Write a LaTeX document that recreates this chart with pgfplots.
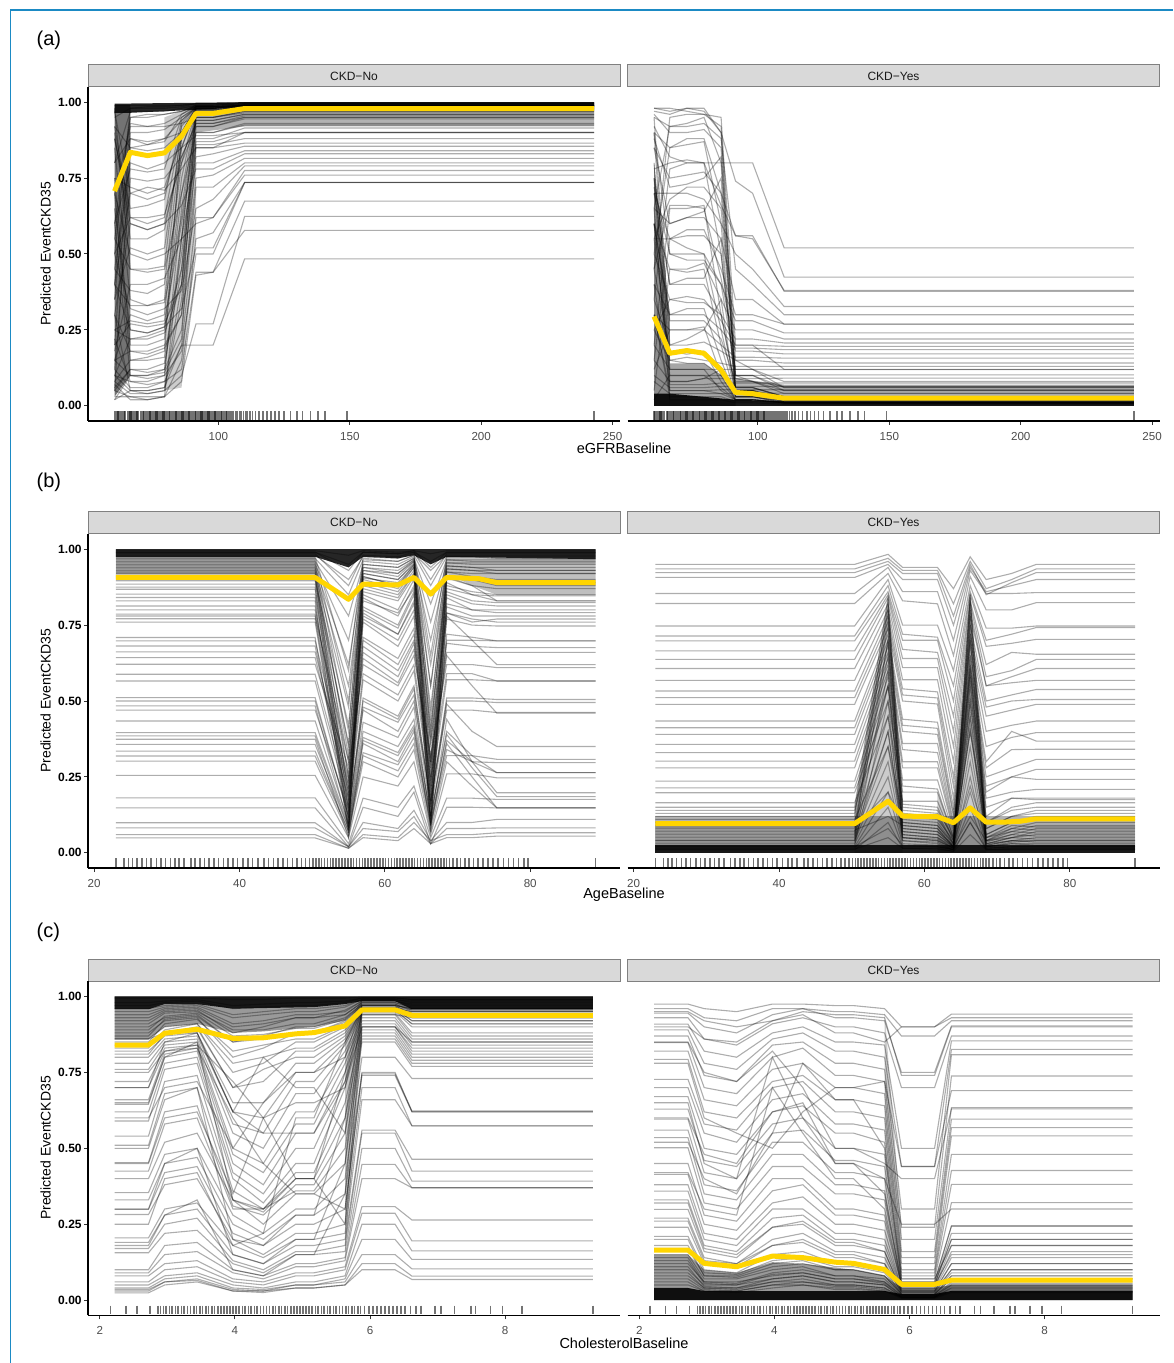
\documentclass[border=0pt]{standalone}
\usepackage{pgfplots}
\pgfplotsset{compat=1.18}
\usepackage{pgfplotstable}
\usepackage{fontspec}
\setmainfont{Liberation Sans}
\definecolor{frameblue}{RGB}{27,138,196}
\definecolor{stripgray}{RGB}{217,217,217}
\definecolor{stripedge}{RGB}{128,128,128}
\definecolor{avgyellow}{RGB}{255,213,0}

\pgfplotsset{
  ice/.style={draw=black, opacity=0.32, line width=0.55pt},
  dk/.style={fill=black, fill opacity=#1, draw=none},
  avg/.style={draw=avgyellow, line width=2.5pt, line join=round},
  rug/.style={only marks, mark=|, mark size=2.1pt, mark options={draw=black, draw opacity=0.55, line width=0.8pt}},
  panel/.style={scale only axis, width=266pt, height=167pt, ymin=-0.05, ymax=1.05,
    anchor=north west, axis x line*=bottom,
    axis line style={line width=0.6pt, black, -},
    tick align=outside, major tick length=2pt,
    tick style={line width=0.5pt, black!80},
    xticklabel style={font=\fontsize{5.8}{6.5}\selectfont, text=black!70}},
  lpanel/.style={panel, axis y line*=left, ytick={0,0.25,0.5,0.75,1},
    yticklabels={0.00,0.25,0.50,0.75,1.00},
    yticklabel style={font=\bfseries\fontsize{6}{7}\selectfont, inner xsep=1pt}},
  rpanel/.style={panel, axis y line=none, ytick=\empty},
  rowa/.style={xmin=50.4, xmax=252.8, xtick={100,150,200,250}, xticklabels={100,150,200,250}},
  rowb/.style={xmin=19.15, xmax=92.35, xtick={20,40,60,80}, xticklabels={20,40,60,80}},
  rowc/.style={xmin=1.825, xmax=9.70, xtick={2,4,6,8}, xticklabels={2,4,6,8}},
}

\newcommand{\LA}[9]{\addplot[ice] coordinates {(60.5,#1)(66.5,#2)(73,#3)(79.5,#4)(86,#5)(91.5,#6)(98,#7)(110,#8)(243,#9)};}
\newcommand{\LB}[9]{\addplot[ice] coordinates {(23,#1)(50.4,#1)(55,#2)(57,#3)(61.8,#4)(64,#5)(66.3,#6)(68.5,#7)(72,#8)(75.4,#9)(89,#9)};}
\newcommand{\LC}[9]{\addplot[ice] coordinates {(2.22,#1)(2.72,#1)(2.96,#2)(3.44,#3)(3.97,#4)(4.42,#5)(4.9,#6)(5.17,#6)(5.63,#7)(5.88,#8)(6.37,#8)(6.62,#9)(9.3,#9)};}

% rug tables: x value, rug position
\pgfplotstableread[row sep=\\]{x r\\
60.5 -.032\\ 60.9 -.032\\ 61.4 -.032\\ 61.8 -.032\\ 62.3 -.032\\ 62.7 -.032\\ 63.2 -.032\\ 63.6 -.032\\ 64.1 -.032\\ 64.5 -.032\\
65.4 -.032\\ 65.9 -.032\\ 66.3 -.032\\ 66.8 -.032\\ 67.2 -.032\\ 67.7 -.032\\ 68.1 -.032\\ 68.6 -.032\\ 69 -.032\\ 69.5 -.032\\
70.4 -.032\\ 70.8 -.032\\ 71.3 -.032\\ 71.7 -.032\\ 72.2 -.032\\ 72.6 -.032\\ 73.1 -.032\\ 73.5 -.032\\ 74 -.032\\ 74.4 -.032\\
74.9 -.032\\ 75.3 -.032\\ 75.8 -.032\\ 76.2 -.032\\ 76.7 -.032\\ 77.1 -.032\\ 77.6 -.032\\ 78 -.032\\ 78.5 -.032\\ 78.9 -.032\\
79.4 -.032\\ 79.8 -.032\\ 80.3 -.032\\ 80.7 -.032\\ 81.2 -.032\\ 81.6 -.032\\ 82.1 -.032\\ 82.5 -.032\\ 83 -.032\\ 83.4 -.032\\
83.9 -.032\\ 84.3 -.032\\ 84.8 -.032\\ 85.2 -.032\\ 85.7 -.032\\ 86.1 -.032\\ 86.6 -.032\\ 87 -.032\\ 87.5 -.032\\ 87.9 -.032\\
88.4 -.032\\ 88.8 -.032\\ 89.3 -.032\\ 89.7 -.032\\ 90.2 -.032\\ 90.6 -.032\\ 91.1 -.032\\ 91.5 -.032\\ 92 -.032\\ 92.4 -.032\\
92.9 -.032\\ 93.3 -.032\\ 93.8 -.032\\ 94.2 -.032\\ 94.7 -.032\\ 95.1 -.032\\ 95.6 -.032\\ 96 -.032\\ 96.5 -.032\\ 96.9 -.032\\
97.4 -.032\\ 97.8 -.032\\ 98.3 -.032\\ 98.7 -.032\\ 99.2 -.032\\ 99.6 -.032\\ 100.1 -.032\\ 100.5 -.032\\ 101 -.032\\ 101.4 -.032\\
101.9 -.032\\ 102.3 -.032\\ 102.8 -.032\\ 103.3 -.032\\ 103.9 -.032\\ 104.5 -.032\\ 105.2 -.032\\ 105.8 -.032\\ 106.5 -.032\\ 107.2 -.032\\
108 -.032\\ 108.7 -.032\\ 109.5 -.032\\ 110.3 -.032\\ 111 -.032\\ 112 -.032\\ 113 -.032\\ 114.2 -.032\\ 115.5 -.032\\ 117 -.032\\
118.6 -.032\\ 120 -.032\\ 121.5 -.032\\ 123 -.032\\ 125 -.032\\ 127.5 -.032\\ 130 -.032\\ 132 -.032\\ 135 -.032\\ 138 -.032\\
140.5 -.032\\ 149 -.032\\ 243 -.032\\
}\rugA
\pgfplotstableread[row sep=\\]{x r\\
23 -.032\\ 24.1 -.032\\ 24.7 -.032\\ 25.3 -.032\\ 25.9 -.032\\ 26.6 -.032\\ 27.2 -.032\\ 27.8 -.032\\ 28.6 -.032\\ 29.2 -.032\\
29.8 -.032\\ 30.5 -.032\\ 31.1 -.032\\ 31.7 -.032\\ 32.4 -.032\\ 33.3 -.032\\ 33.9 -.032\\ 34.6 -.032\\ 35.2 -.032\\ 35.8 -.032\\
36.5 -.032\\ 37.1 -.032\\ 37.8 -.032\\ 38.4 -.032\\ 39.1 -.032\\ 39.7 -.032\\ 40.5 -.032\\ 41.2 -.032\\ 41.8 -.032\\ 42.5 -.032\\
43.4 -.032\\ 44 -.032\\ 44.7 -.032\\ 45.3 -.032\\ 46 -.032\\ 46.6 -.032\\ 47.3 -.032\\ 47.9 -.032\\ 48.5 -.032\\ 49.1 -.032\\
49.6 -.032\\ 50.1 -.032\\ 50.5 -.032\\ 50.9 -.032\\ 51.3 -.032\\ 51.7 -.032\\ 52.1 -.032\\ 52.5 -.032\\ 52.9 -.032\\ 53.3 -.032\\
53.7 -.032\\ 54.1 -.032\\ 54.5 -.032\\ 54.9 -.032\\ 55.3 -.032\\ 55.7 -.032\\ 56.1 -.032\\ 56.5 -.032\\ 56.9 -.032\\ 57.3 -.032\\
57.7 -.032\\ 58.1 -.032\\ 58.5 -.032\\ 58.9 -.032\\ 59.3 -.032\\ 59.7 -.032\\ 60.1 -.032\\ 60.5 -.032\\ 60.9 -.032\\ 61.3 -.032\\
61.7 -.032\\ 62.1 -.032\\ 62.5 -.032\\ 62.9 -.032\\ 63.3 -.032\\ 63.7 -.032\\ 64.1 -.032\\ 64.5 -.032\\ 64.9 -.032\\ 65.3 -.032\\
65.7 -.032\\ 66.1 -.032\\ 66.5 -.032\\ 66.9 -.032\\ 67.3 -.032\\ 67.7 -.032\\ 68.1 -.032\\ 68.5 -.032\\ 68.9 -.032\\ 69.4 -.032\\
69.9 -.032\\ 70.4 -.032\\ 71 -.032\\ 71.6 -.032\\ 72.2 -.032\\ 72.8 -.032\\ 73.5 -.032\\ 74.2 -.032\\ 74.9 -.032\\ 75.6 -.032\\
76.3 -.032\\ 77 -.032\\ 77.7 -.032\\ 78.4 -.032\\ 79.1 -.032\\ 79.7 -.032\\ 89 -.032\\
}\rugB
\pgfplotstableread[row sep=\\]{x r\\
2.16 -.032\\ 2.39 -.032\\ 2.55 -.032\\ 2.74 -.032\\ 2.86 -.032\\ 2.9 -.032\\ 2.94 -.032\\ 2.98 -.032\\ 3.03 -.032\\ 3.07 -.032\\
3.12 -.032\\ 3.16 -.032\\ 3.21 -.032\\ 3.25 -.032\\ 3.3 -.032\\ 3.34 -.032\\ 3.39 -.032\\ 3.43 -.032\\ 3.48 -.032\\ 3.52 -.032\\
3.57 -.032\\ 3.61 -.032\\ 3.66 -.032\\ 3.7 -.032\\ 3.75 -.032\\ 3.79 -.032\\ 3.84 -.032\\ 3.88 -.032\\ 3.93 -.032\\ 3.97 -.032\\
4.02 -.032\\ 4.06 -.032\\ 4.11 -.032\\ 4.15 -.032\\ 4.2 -.032\\ 4.24 -.032\\ 4.29 -.032\\ 4.33 -.032\\ 4.38 -.032\\ 4.42 -.032\\
4.47 -.032\\ 4.51 -.032\\ 4.56 -.032\\ 4.6 -.032\\ 4.65 -.032\\ 4.69 -.032\\ 4.74 -.032\\ 4.78 -.032\\ 4.83 -.032\\ 4.87 -.032\\
4.92 -.032\\ 4.96 -.032\\ 5.01 -.032\\ 5.05 -.032\\ 5.1 -.032\\ 5.14 -.032\\ 5.19 -.032\\ 5.23 -.032\\ 5.28 -.032\\ 5.32 -.032\\
5.37 -.032\\ 5.41 -.032\\ 5.46 -.032\\ 5.5 -.032\\ 5.55 -.032\\ 5.59 -.032\\ 5.64 -.032\\ 5.68 -.032\\ 5.73 -.032\\ 5.77 -.032\\
5.82 -.032\\ 5.86 -.032\\ 5.92 -.032\\ 5.98 -.032\\ 6.04 -.032\\ 6.1 -.032\\ 6.16 -.032\\ 6.22 -.032\\ 6.28 -.032\\ 6.34 -.032\\
6.4 -.032\\ 6.46 -.032\\ 6.52 -.032\\ 6.6 -.032\\ 6.68 -.032\\ 6.75 -.032\\ 6.96 -.032\\ 7.05 -.032\\ 7.25 -.032\\ 7.49 -.032\\
7.56 -.032\\ 7.78 -.032\\ 7.96 -.032\\ 8.25 -.032\\ 9.3 -.032\\
}\rugC

\begin{document}
\begin{tikzpicture}
% frame
\draw[frameblue, line width=0.8pt] (5.15pt,-681.5pt) -- (5.15pt,-5pt) -- (586.5pt,-5pt);
% panel labels
\node[anchor=west, font=\fontsize{10}{12}\selectfont] at (14.8pt,-20.2pt) {(a)};
\node[anchor=west, font=\fontsize{10}{12}\selectfont] at (14.8pt,-241.25pt) {(b)};
\node[anchor=west, font=\fontsize{10}{12}\selectfont] at (14.8pt,-466.25pt) {(c)};
% strips
\foreach \yt in {-32.5,-255.85,-479.65} {
  \filldraw[fill=stripgray, draw=stripedge, line width=0.5pt] (44pt,\yt pt) rectangle (310pt,\yt pt-11pt);
  \filldraw[fill=stripgray, draw=stripedge, line width=0.5pt] (313.75pt,\yt pt) rectangle (579.75pt,\yt pt-11pt);
  \node[font=\fontsize{6}{7}\selectfont, text=black!90] at (177pt,\yt pt-5.5pt) {CKD−No};
  \node[font=\fontsize{6}{7}\selectfont, text=black!90] at (446.75pt,\yt pt-5.5pt) {CKD−Yes};
}
% axis titles
\foreach \yc in {-127,-350.3,-574} {
  \node[rotate=90, font=\fontsize{7}{8}\selectfont] at (22.75pt,\yc pt) {Predicted EventCKD35};
}
\node[font=\fontsize{7.25}{8}\selectfont] at (312pt,-224pt) {eGFRBaseline};
\node[font=\fontsize{7.25}{8}\selectfont] at (312pt,-447.5pt) {AgeBaseline};
\node[font=\fontsize{7.25}{8}\selectfont] at (312pt,-671.5pt) {CholesterolBaseline};

%================ (a) left
\begin{axis}[lpanel, rowa, at={(44pt,-43.5pt)}]
\addplot[dk=0.55] coordinates {(60.5,0.03)(60.5,0.99)(66.5,0.99)(66.5,0.1)} -- cycle;
\addplot[dk=0.2] coordinates {(79.5,0.05)(86,0.06)(91.5,0.55)(91.5,0.99)(79.5,0.95)} -- cycle;
\addplot[dk=0.3] coordinates {(91.5,0.9)(110,0.92)(243,0.92)(243,0.983)(110,0.983)(91.5,0.975)} -- cycle;
\addplot[dk=0.85] coordinates {(60.5,0.965)(66.5,0.965)(91.5,0.975)(110,0.983)(243,0.983)(243,1.0)(110,1.0)(60.5,0.995)} -- cycle;
\LA{0.99}{0.99}{0.99}{0.99}{0.99}{0.995}{0.995}{0.998}{0.998}
\LA{0.95}{0.98}{0.985}{0.985}{0.99}{0.995}{0.995}{0.997}{0.997}
\LA{0.80}{0.97}{0.97}{0.97}{0.98}{0.99}{0.99}{0.995}{0.995}
\LA{0.60}{0.95}{0.95}{0.96}{0.97}{0.985}{0.985}{0.993}{0.993}
\LA{0.40}{0.93}{0.92}{0.93}{0.96}{0.985}{0.985}{0.99}{0.99}
\LA{0.20}{0.90}{0.90}{0.91}{0.95}{0.98}{0.98}{0.99}{0.99}
\LA{0.05}{0.85}{0.86}{0.88}{0.94}{0.98}{0.98}{0.988}{0.988}
\LA{0.97}{0.70}{0.68}{0.70}{0.90}{0.985}{0.985}{0.99}{0.99}
\LA{0.90}{0.55}{0.55}{0.58}{0.85}{0.98}{0.98}{0.99}{0.99}
\LA{0.85}{0.35}{0.33}{0.35}{0.80}{0.975}{0.975}{0.985}{0.985}
\LA{0.75}{0.20}{0.20}{0.22}{0.70}{0.97}{0.97}{0.985}{0.985}
\LA{0.60}{0.10}{0.10}{0.12}{0.55}{0.97}{0.97}{0.98}{0.98}
\LA{0.30}{0.05}{0.05}{0.06}{0.40}{0.96}{0.965}{0.98}{0.98}
\LA{0.15}{0.30}{0.28}{0.30}{0.85}{0.975}{0.975}{0.985}{0.985}
\LA{0.50}{0.62}{0.60}{0.62}{0.92}{0.98}{0.98}{0.99}{0.99}
\LA{0.70}{0.92}{0.92}{0.92}{0.93}{0.95}{0.95}{0.965}{0.965}
\LA{0.35}{0.88}{0.87}{0.88}{0.90}{0.94}{0.94}{0.96}{0.96}
\LA{0.12}{0.75}{0.74}{0.75}{0.82}{0.93}{0.93}{0.955}{0.955}
\LA{0.92}{0.62}{0.62}{0.63}{0.80}{0.92}{0.92}{0.945}{0.945}
\LA{0.55}{0.45}{0.44}{0.45}{0.70}{0.90}{0.90}{0.93}{0.93}
\LA{0.25}{0.28}{0.27}{0.28}{0.60}{0.90}{0.90}{0.925}{0.925}
\LA{0.08}{0.15}{0.15}{0.16}{0.50}{0.88}{0.88}{0.915}{0.915}
\LA{0.45}{0.80}{0.78}{0.80}{0.85}{0.89}{0.89}{0.90}{0.90}
\LA{0.02}{0.05}{0.04}{0.05}{0.35}{0.87}{0.87}{0.90}{0.90}
\LA{0.65}{0.25}{0.24}{0.26}{0.45}{0.86}{0.86}{0.88}{0.88}
\LA{0.40}{0.70}{0.72}{0.71}{0.78}{0.85}{0.85}{0.865}{0.865}
\LA{0.18}{0.40}{0.40}{0.42}{0.55}{0.82}{0.83}{0.855}{0.855}
\LA{0.10}{0.22}{0.22}{0.24}{0.40}{0.80}{0.80}{0.84}{0.84}
\LA{0.88}{0.60}{0.58}{0.60}{0.66}{0.78}{0.78}{0.83}{0.83}
\LA{0.30}{0.18}{0.18}{0.20}{0.30}{0.75}{0.76}{0.815}{0.815}
\LA{0.06}{0.12}{0.11}{0.12}{0.25}{0.72}{0.72}{0.80}{0.80}
\LA{0.50}{0.32}{0.30}{0.32}{0.38}{0.65}{0.68}{0.79}{0.79}
\LA{0.22}{0.08}{0.07}{0.08}{0.20}{0.62}{0.62}{0.775}{0.775}
\LA{0.70}{0.50}{0.48}{0.50}{0.55}{0.60}{0.62}{0.76}{0.76}
\LA{0.03}{0.03}{0.03}{0.03}{0.15}{0.55}{0.57}{0.736}{0.736}
\LA{0.40}{0.25}{0.24}{0.26}{0.32}{0.52}{0.52}{0.736}{0.736}
\LA{0.15}{0.10}{0.09}{0.10}{0.18}{0.50}{0.50}{0.735}{0.735}
\LA{0.12}{0.06}{0.06}{0.08}{0.12}{0.44}{0.44}{0.674}{0.674}
\LA{0.08}{0.04}{0.04}{0.05}{0.10}{0.27}{0.27}{0.624}{0.624}
\LA{0.05}{0.03}{0.02}{0.03}{0.08}{0.43}{0.44}{0.578}{0.578}
\LA{0.10}{0.05}{0.05}{0.06}{0.20}{0.20}{0.20}{0.484}{0.484}
\LA{0.98}{0.45}{0.45}{0.46}{0.93}{0.985}{0.985}{0.99}{0.99}
\LA{0.70}{0.15}{0.16}{0.18}{0.90}{0.98}{0.98}{0.99}{0.99}
\LA{0.45}{0.38}{0.37}{0.40}{0.88}{0.975}{0.975}{0.985}{0.985}
\LA{0.25}{0.22}{0.23}{0.25}{0.75}{0.97}{0.97}{0.98}{0.98}
\LA{0.10}{0.08}{0.08}{0.10}{0.65}{0.965}{0.965}{0.975}{0.975}
\LA{0.88}{0.65}{0.66}{0.68}{0.94}{0.985}{0.985}{0.99}{0.99}
\LA{0.60}{0.78}{0.77}{0.78}{0.95}{0.985}{0.985}{0.99}{0.99}
\LA{0.35}{0.52}{0.50}{0.52}{0.90}{0.98}{0.98}{0.99}{0.99}
\LA{0.15}{0.18}{0.17}{0.19}{0.30}{0.95}{0.95}{0.97}{0.97}
\LA{0.05}{0.12}{0.12}{0.14}{0.45}{0.96}{0.96}{0.975}{0.975}
\LA{0.80}{0.88}{0.86}{0.87}{0.96}{0.99}{0.99}{0.995}{0.995}
\LA{0.55}{0.95}{0.96}{0.96}{0.97}{0.99}{0.99}{0.995}{0.995}
\LA{0.20}{0.27}{0.26}{0.27}{0.40}{0.92}{0.92}{0.95}{0.95}
\LA{0.40}{0.33}{0.33}{0.34}{0.62}{0.94}{0.94}{0.96}{0.96}
\LA{0.07}{0.02}{0.02}{0.03}{0.55}{0.97}{0.97}{0.98}{0.98}
\LA{0.92}{0.85}{0.84}{0.85}{0.90}{0.96}{0.96}{0.975}{0.975}
\LA{0.75}{0.72}{0.70}{0.72}{0.88}{0.95}{0.95}{0.97}{0.97}
\LA{0.30}{0.60}{0.58}{0.60}{0.82}{0.93}{0.93}{0.95}{0.95}
\LA{0.02}{0.10}{0.10}{0.11}{0.22}{0.85}{0.85}{0.90}{0.90}
\LA{0.50}{0.98}{0.98}{0.98}{0.985}{0.995}{0.995}{0.998}{0.998}
\addplot[avg] coordinates {(60.5,0.707)(66.5,0.835)(73,0.824)(79.5,0.833)(86,0.888)(91.5,0.963)(98,0.963)(110,0.979)(243,0.979)};
\addplot[rug] table[x=x, y=r] {\rugA};
\end{axis}

%================ (a) right
\begin{axis}[rpanel, rowa, at={(313.75pt,-43.5pt)}]
\addplot[dk=0.45] coordinates {(60.5,0.0)(60.5,0.8)(66.5,0.3)(66.5,0.0)} -- cycle;
\addplot[dk=0.35] coordinates {(66.5,0)(66.5,0.14)(79.5,0.14)(86,0.1)(91.5,0.03)(91.5,0)} -- cycle;
\addplot[dk=0.3] coordinates {(91.5,0.02)(110,0.015)(243,0.015)(243,0.07)(110,0.07)(91.5,0.09)} -- cycle;
\addplot[dk=0.9] coordinates {(60.5,0)(243,0)(243,0.015)(110,0.015)(91.5,0.02)(66.5,0.04)(60.5,0.04)} -- cycle;
\LA{0.98}{0.97}{0.98}{0.97}{0.90}{0.05}{0.05}{0.02}{0.02}
\LA{0.95}{0.92}{0.93}{0.95}{0.80}{0.04}{0.04}{0.015}{0.015}
\LA{0.90}{0.85}{0.86}{0.87}{0.60}{0.03}{0.03}{0.01}{0.01}
\LA{0.78}{0.80}{0.81}{0.80}{0.80}{0.80}{0.80}{0.52}{0.52}
\LA{0.97}{0.96}{0.98}{0.98}{0.90}{0.74}{0.70}{0.424}{0.424}
\LA{0.85}{0.75}{0.76}{0.77}{0.70}{0.56}{0.56}{0.377}{0.377}
\LA{0.70}{0.70}{0.70}{0.68}{0.60}{0.50}{0.45}{0.327}{0.327}
\LA{0.65}{0.60}{0.62}{0.62}{0.55}{0.35}{0.35}{0.269}{0.269}
\LA{0.55}{0.55}{0.58}{0.58}{0.45}{0.30}{0.30}{0.269}{0.269}
\LA{0.90}{0.50}{0.50}{0.50}{0.40}{0.28}{0.28}{0.24}{0.24}
\LA{0.60}{0.45}{0.45}{0.47}{0.35}{0.25}{0.25}{0.22}{0.22}
\LA{0.75}{0.40}{0.40}{0.40}{0.30}{0.22}{0.22}{0.207}{0.207}
\LA{0.50}{0.35}{0.36}{0.35}{0.28}{0.20}{0.20}{0.196}{0.196}
\LA{0.40}{0.30}{0.30}{0.30}{0.25}{0.19}{0.19}{0.185}{0.185}
\LA{0.45}{0.66}{0.66}{0.65}{0.42}{0.18}{0.18}{0.171}{0.171}
\LA{0.30}{0.25}{0.25}{0.25}{0.20}{0.16}{0.16}{0.157}{0.157}
\LA{0.35}{0.20}{0.20}{0.21}{0.18}{0.15}{0.15}{0.141}{0.141}
\LA{0.25}{0.15}{0.16}{0.15}{0.14}{0.13}{0.13}{0.13}{0.13}
\LA{0.20}{0.12}{0.12}{0.12}{0.12}{0.12}{0.12}{0.119}{0.119}
\LA{0.60}{0.10}{0.10}{0.10}{0.10}{0.10}{0.10}{0.102}{0.102}
\LA{0.15}{0.08}{0.08}{0.09}{0.09}{0.09}{0.09}{0.091}{0.091}
\LA{0.40}{0.07}{0.07}{0.07}{0.075}{0.075}{0.075}{0.075}{0.075}
\LA{0.10}{0.06}{0.06}{0.06}{0.064}{0.064}{0.064}{0.064}{0.064}
\LA{0.30}{0.05}{0.05}{0.05}{0.053}{0.053}{0.053}{0.053}{0.053}
\LA{0.08}{0.04}{0.04}{0.04}{0.04}{0.042}{0.042}{0.042}{0.042}
\LA{0.50}{0.85}{0.88}{0.88}{0.70}{0.10}{0.08}{0.04}{0.04}
\LA{0.35}{0.78}{0.80}{0.80}{0.50}{0.06}{0.06}{0.03}{0.03}
\LA{0.20}{0.65}{0.65}{0.66}{0.30}{0.05}{0.05}{0.02}{0.02}
\LA{0.70}{0.55}{0.52}{0.50}{0.25}{0.04}{0.04}{0.02}{0.02}
\LA{0.05}{0.45}{0.44}{0.45}{0.20}{0.03}{0.03}{0.015}{0.015}
\LA{0.60}{0.30}{0.32}{0.32}{0.15}{0.03}{0.03}{0.01}{0.01}
\LA{0.12}{0.25}{0.25}{0.26}{0.10}{0.02}{0.02}{0.01}{0.01}
\LA{0.45}{0.18}{0.17}{0.18}{0.08}{0.02}{0.02}{0.01}{0.01}
\LA{0.90}{0.12}{0.12}{0.12}{0.05}{0.02}{0.02}{0.01}{0.01}
\LA{0.02}{0.10}{0.10}{0.10}{0.06}{0.02}{0.02}{0.01}{0.01}
\LA{0.75}{0.05}{0.05}{0.05}{0.04}{0.02}{0.02}{0.01}{0.01}
\LA{0.30}{0.03}{0.03}{0.03}{0.03}{0.015}{0.015}{0.008}{0.008}
\LA{0.65}{0.92}{0.92}{0.93}{0.88}{0.45}{0.40}{0.30}{0.30}
\LA{0.55}{0.68}{0.72}{0.72}{0.65}{0.10}{0.10}{0.05}{0.05}
\LA{0.96}{0.90}{0.90}{0.91}{0.85}{0.06}{0.06}{0.03}{0.03}
\LA{0.85}{0.60}{0.62}{0.64}{0.75}{0.05}{0.05}{0.02}{0.02}
\LA{0.70}{0.40}{0.42}{0.42}{0.55}{0.04}{0.04}{0.02}{0.02}
\LA{0.95}{0.20}{0.22}{0.25}{0.35}{0.03}{0.03}{0.015}{0.015}
\LA{0.80}{0.08}{0.08}{0.09}{0.12}{0.02}{0.02}{0.01}{0.01}
\LA{0.65}{0.02}{0.02}{0.02}{0.02}{0.01}{0.01}{0.005}{0.005}
\LA{0.55}{0.15}{0.14}{0.14}{0.10}{0.05}{0.05}{0.03}{0.03}
\LA{0.25}{0.35}{0.34}{0.34}{0.30}{0.06}{0.06}{0.03}{0.03}
\LA{0.15}{0.55}{0.56}{0.56}{0.50}{0.09}{0.08}{0.05}{0.05}
\LA{0.88}{0.72}{0.73}{0.75}{0.82}{0.15}{0.12}{0.06}{0.06}
\LA{0.45}{0.95}{0.96}{0.96}{0.95}{0.20}{0.20}{0.12}{0.12}
\LA{0.92}{0.82}{0.80}{0.80}{0.66}{0.56}{0.55}{0.38}{0.38}
\LA{0.72}{0.50}{0.48}{0.48}{0.40}{0.12}{0.12}{0.08}{0.08}
\LA{0.60}{0.28}{0.28}{0.28}{0.22}{0.08}{0.08}{0.064}{0.064}
\LA{0.98}{0.98}{0.97}{0.96}{0.92}{0.10}{0.10}{0.06}{0.06}
\addplot[avg] coordinates {(60.5,0.294)(66.5,0.173)(73,0.182)(79.5,0.173)(86,0.118)(91.5,0.044)(98,0.04)(110,0.025)(243,0.025)};
\addplot[rug] table[x=x, y=r] {\rugA};
\end{axis}

%================ (b) left
\begin{axis}[lpanel, rowb, at={(44pt,-267pt)}]
\addplot[dk=0.3] coordinates {(23,0.918)(50.4,0.918)(50.4,0.975)(23,0.975)} -- cycle;
\addplot[dk=0.25] coordinates {(72,0.88)(75.4,0.85)(89,0.85)(89,0.967)(68.5,0.975)(68.5,0.92)} -- cycle;
\addplot[dk=0.85] coordinates {(23,0.975)(50.4,0.975)(55,0.94)(57,0.975)(61.8,0.97)(64,0.98)(66.3,0.95)(68.5,0.975)(89,0.967)(89,1)(23,1)} -- cycle;
\LB{0.995}{0.98}{0.995}{0.99}{0.995}{0.985}{0.995}{0.995}{0.995}
\LB{0.99}{0.95}{0.99}{0.985}{0.99}{0.96}{0.99}{0.99}{0.99}
\LB{0.98}{0.90}{0.975}{0.97}{0.985}{0.93}{0.98}{0.98}{0.98}
\LB{0.97}{0.85}{0.965}{0.96}{0.98}{0.88}{0.975}{0.975}{0.975}
\LB{0.96}{0.78}{0.95}{0.94}{0.97}{0.82}{0.965}{0.965}{0.965}
\LB{0.95}{0.70}{0.94}{0.93}{0.965}{0.76}{0.955}{0.955}{0.955}
\LB{0.94}{0.62}{0.93}{0.92}{0.96}{0.70}{0.945}{0.94}{0.94}
\LB{0.93}{0.55}{0.92}{0.90}{0.95}{0.62}{0.935}{0.93}{0.93}
\LB{0.92}{0.48}{0.91}{0.88}{0.94}{0.55}{0.925}{0.92}{0.92}
\LB{0.896}{0.42}{0.89}{0.86}{0.93}{0.48}{0.90}{0.90}{0.88}
\LB{0.885}{0.36}{0.88}{0.85}{0.92}{0.42}{0.89}{0.85}{0.846}
\LB{0.868}{0.30}{0.86}{0.83}{0.91}{0.36}{0.87}{0.85}{0.83}
\LB{0.852}{0.25}{0.85}{0.80}{0.90}{0.30}{0.86}{0.83}{0.824}
\LB{0.841}{0.20}{0.84}{0.78}{0.88}{0.25}{0.85}{0.82}{0.813}
\LB{0.813}{0.17}{0.81}{0.75}{0.86}{0.20}{0.82}{0.80}{0.791}
\LB{0.786}{0.14}{0.79}{0.72}{0.83}{0.17}{0.79}{0.76}{0.77}
\LB{0.771}{0.12}{0.77}{0.70}{0.80}{0.15}{0.78}{0.70}{0.62}
\LB{0.76}{0.10}{0.76}{0.68}{0.78}{0.12}{0.77}{0.75}{0.747}
\LB{0.709}{0.08}{0.71}{0.64}{0.74}{0.10}{0.72}{0.71}{0.698}
\LB{0.698}{0.24}{0.70}{0.62}{0.72}{0.30}{0.70}{0.70}{0.698}
\LB{0.681}{0.16}{0.68}{0.60}{0.70}{0.22}{0.69}{0.68}{0.676}
\LB{0.662}{0.22}{0.66}{0.58}{0.69}{0.28}{0.66}{0.66}{0.66}
\LB{0.643}{0.20}{0.64}{0.56}{0.67}{0.25}{0.65}{0.55}{0.46}
\LB{0.621}{0.28}{0.62}{0.55}{0.65}{0.32}{0.62}{0.62}{0.61}
\LB{0.588}{0.18}{0.59}{0.52}{0.62}{0.24}{0.59}{0.59}{0.566}
\LB{0.566}{0.15}{0.57}{0.50}{0.60}{0.20}{0.57}{0.57}{0.566}
\LB{0.511}{0.12}{0.51}{0.45}{0.55}{0.16}{0.51}{0.51}{0.505}
\LB{0.50}{0.12}{0.50}{0.44}{0.54}{0.16}{0.50}{0.50}{0.495}
\LB{0.484}{0.09}{0.48}{0.43}{0.52}{0.13}{0.49}{0.40}{0.35}
\LB{0.47}{0.14}{0.47}{0.40}{0.50}{0.18}{0.47}{0.47}{0.462}
\LB{0.434}{0.10}{0.43}{0.38}{0.48}{0.10}{0.44}{0.30}{0.198}
\LB{0.396}{0.09}{0.40}{0.35}{0.44}{0.12}{0.40}{0.32}{0.264}
\LB{0.385}{0.08}{0.38}{0.33}{0.42}{0.12}{0.39}{0.28}{0.185}
\LB{0.374}{0.05}{0.37}{0.32}{0.41}{0.08}{0.37}{0.30}{0.264}
\LB{0.357}{0.08}{0.36}{0.30}{0.40}{0.10}{0.36}{0.25}{0.148}
\LB{0.335}{0.07}{0.33}{0.29}{0.38}{0.10}{0.34}{0.30}{0.297}
\LB{0.319}{0.07}{0.32}{0.27}{0.36}{0.09}{0.32}{0.32}{0.308}
\LB{0.302}{0.06}{0.30}{0.25}{0.34}{0.07}{0.30}{0.22}{0.148}
\LB{0.255}{0.05}{0.25}{0.22}{0.30}{0.06}{0.26}{0.26}{0.247}
\LB{0.181}{0.03}{0.18}{0.15}{0.22}{0.05}{0.18}{0.18}{0.176}
\LB{0.148}{0.02}{0.15}{0.12}{0.20}{0.03}{0.15}{0.15}{0.148}
\LB{0.099}{0.02}{0.10}{0.08}{0.14}{0.04}{0.10}{0.10}{0.11}
\LB{0.082}{0.02}{0.08}{0.07}{0.12}{0.03}{0.08}{0.08}{0.082}
\LB{0.06}{0.015}{0.06}{0.05}{0.10}{0.04}{0.06}{0.06}{0.066}
\LB{0.049}{0.015}{0.05}{0.04}{0.08}{0.03}{0.05}{0.05}{0.055}
\LB{0.975}{0.60}{0.97}{0.96}{0.98}{0.65}{0.975}{0.975}{0.97}
\LB{0.965}{0.50}{0.96}{0.95}{0.975}{0.55}{0.965}{0.96}{0.96}
\LB{0.955}{0.40}{0.95}{0.94}{0.97}{0.45}{0.955}{0.95}{0.95}
\LB{0.945}{0.32}{0.94}{0.92}{0.965}{0.38}{0.945}{0.94}{0.93}
\LB{0.935}{0.25}{0.93}{0.91}{0.96}{0.30}{0.935}{0.93}{0.92}
\LB{0.925}{0.18}{0.92}{0.90}{0.955}{0.22}{0.925}{0.91}{0.90}
\LB{0.915}{0.14}{0.91}{0.88}{0.95}{0.16}{0.915}{0.90}{0.89}
\LB{0.905}{0.10}{0.90}{0.87}{0.94}{0.12}{0.905}{0.88}{0.87}
\LB{0.875}{0.08}{0.87}{0.84}{0.92}{0.09}{0.88}{0.86}{0.85}
\LB{0.83}{0.06}{0.83}{0.79}{0.87}{0.07}{0.84}{0.80}{0.80}
\LB{0.80}{0.22}{0.80}{0.74}{0.85}{0.28}{0.81}{0.78}{0.78}
\LB{0.78}{0.30}{0.78}{0.72}{0.82}{0.36}{0.79}{0.77}{0.76}
\LB{0.985}{0.88}{0.98}{0.975}{0.99}{0.90}{0.985}{0.985}{0.985}
\LB{0.99}{0.93}{0.99}{0.985}{0.995}{0.94}{0.99}{0.99}{0.99}
\LB{0.91}{0.35}{0.905}{0.89}{0.945}{0.40}{0.91}{0.88}{0.83}
\addplot[avg] coordinates {(23,0.907)(50.4,0.907)(55,0.835)(57,0.885)(61.8,0.882)(64,0.907)(66.3,0.852)(68.5,0.907)(72.9,0.903)(75.4,0.89)(89,0.89)};
\addplot[rug] table[x=x, y=r] {\rugB};
\end{axis}

%================ (b) right
\begin{axis}[rpanel, rowb, at={(313.75pt,-267pt)}]
\addplot[dk=0.3] coordinates {(23,0.025)(89,0.025)(89,0.12)(23,0.12)} -- cycle;
\addplot[dk=0.2] coordinates {(50.4,0.0)(50.4,0.15)(55,0.85)(57,0.2)(57,0)} -- cycle;
\addplot[dk=0.2] coordinates {(61.8,0.0)(61.8,0.2)(64,0.05)(66.3,0.85)(68.5,0.2)(68.5,0)} -- cycle;
\addplot[dk=0.9] coordinates {(23,0)(89,0)(89,0.025)(23,0.025)} -- cycle;
\LB{0.95}{0.983}{0.94}{0.94}{0.87}{0.975}{0.90}{0.92}{0.95}
\LB{0.935}{0.97}{0.93}{0.93}{0.82}{0.96}{0.87}{0.90}{0.935}
\LB{0.923}{0.96}{0.92}{0.92}{0.78}{0.95}{0.85}{0.89}{0.923}
\LB{0.907}{0.95}{0.90}{0.90}{0.75}{0.94}{0.86}{0.88}{0.90}
\LB{0.854}{0.94}{0.86}{0.86}{0.70}{0.93}{0.854}{0.854}{0.857}
\LB{0.821}{0.92}{0.83}{0.82}{0.65}{0.91}{0.80}{0.80}{0.824}
\LB{0.747}{0.90}{0.75}{0.75}{0.60}{0.88}{0.74}{0.74}{0.747}
\LB{0.714}{0.88}{0.72}{0.71}{0.55}{0.86}{0.70}{0.72}{0.742}
\LB{0.698}{0.86}{0.70}{0.70}{0.50}{0.85}{0.68}{0.69}{0.703}
\LB{0.665}{0.85}{0.67}{0.66}{0.45}{0.83}{0.62}{0.66}{0.654}
\LB{0.637}{0.84}{0.64}{0.64}{0.40}{0.82}{0.58}{0.60}{0.637}
\LB{0.607}{0.82}{0.61}{0.61}{0.35}{0.80}{0.55}{0.58}{0.607}
\LB{0.568}{0.80}{0.57}{0.57}{0.30}{0.78}{0.55}{0.56}{0.568}
\LB{0.533}{0.78}{0.54}{0.53}{0.25}{0.75}{0.50}{0.52}{0.538}
\LB{0.511}{0.76}{0.52}{0.51}{0.22}{0.72}{0.48}{0.50}{0.505}
\LB{0.489}{0.74}{0.50}{0.49}{0.18}{0.70}{0.45}{0.47}{0.489}
\LB{0.434}{0.72}{0.44}{0.43}{0.15}{0.68}{0.40}{0.42}{0.434}
\LB{0.412}{0.70}{0.42}{0.41}{0.13}{0.65}{0.35}{0.38}{0.396}
\LB{0.39}{0.68}{0.40}{0.39}{0.12}{0.62}{0.30}{0.40}{0.368}
\LB{0.357}{0.66}{0.36}{0.36}{0.10}{0.60}{0.28}{0.34}{0.341}
\LB{0.33}{0.64}{0.34}{0.33}{0.09}{0.58}{0.25}{0.28}{0.308}
\LB{0.302}{0.62}{0.30}{0.30}{0.08}{0.55}{0.22}{0.25}{0.275}
\LB{0.28}{0.60}{0.28}{0.28}{0.07}{0.52}{0.20}{0.25}{0.242}
\LB{0.236}{0.58}{0.24}{0.24}{0.06}{0.50}{0.18}{0.20}{0.209}
\LB{0.214}{0.55}{0.22}{0.21}{0.05}{0.48}{0.15}{0.18}{0.18}
\LB{0.198}{0.50}{0.20}{0.20}{0.05}{0.45}{0.12}{0.18}{0.175}
\LB{0.165}{0.45}{0.17}{0.17}{0.04}{0.40}{0.10}{0.15}{0.165}
\LB{0.15}{0.84}{0.16}{0.15}{0.04}{0.85}{0.10}{0.14}{0.15}
\LB{0.13}{0.80}{0.14}{0.13}{0.03}{0.80}{0.08}{0.12}{0.13}
\LB{0.12}{0.75}{0.13}{0.12}{0.03}{0.75}{0.06}{0.10}{0.12}
\LB{0.10}{0.70}{0.11}{0.10}{0.03}{0.70}{0.05}{0.08}{0.10}
\LB{0.09}{0.65}{0.10}{0.09}{0.025}{0.65}{0.05}{0.07}{0.09}
\LB{0.08}{0.55}{0.09}{0.08}{0.02}{0.58}{0.04}{0.06}{0.08}
\LB{0.07}{0.45}{0.08}{0.07}{0.02}{0.50}{0.04}{0.05}{0.07}
\LB{0.06}{0.40}{0.07}{0.06}{0.02}{0.42}{0.03}{0.05}{0.06}
\LB{0.05}{0.35}{0.06}{0.05}{0.015}{0.35}{0.03}{0.04}{0.05}
\LB{0.04}{0.30}{0.05}{0.04}{0.015}{0.30}{0.02}{0.035}{0.04}
\LB{0.03}{0.25}{0.04}{0.035}{0.01}{0.25}{0.02}{0.03}{0.03}
\LB{0.02}{0.20}{0.03}{0.025}{0.01}{0.20}{0.015}{0.02}{0.02}
\LB{0.015}{0.15}{0.02}{0.02}{0.01}{0.15}{0.01}{0.015}{0.015}
\LB{0.01}{0.10}{0.015}{0.015}{0.005}{0.10}{0.01}{0.01}{0.01}
\LB{0.025}{0.50}{0.04}{0.03}{0.01}{0.55}{0.02}{0.03}{0.025}
\LB{0.035}{0.60}{0.05}{0.04}{0.015}{0.62}{0.025}{0.04}{0.035}
\LB{0.045}{0.70}{0.06}{0.05}{0.02}{0.72}{0.03}{0.05}{0.045}
\LB{0.055}{0.78}{0.07}{0.06}{0.02}{0.78}{0.035}{0.06}{0.055}
\LB{0.065}{0.82}{0.08}{0.07}{0.025}{0.84}{0.04}{0.07}{0.065}
\LB{0.075}{0.12}{0.09}{0.08}{0.02}{0.12}{0.04}{0.08}{0.075}
\LB{0.085}{0.20}{0.10}{0.09}{0.03}{0.22}{0.05}{0.09}{0.085}
\LB{0.11}{0.35}{0.12}{0.11}{0.04}{0.40}{0.06}{0.10}{0.11}
\LB{0.02}{0.08}{0.025}{0.02}{0.01}{0.10}{0.015}{0.02}{0.02}
\LB{0.012}{0.05}{0.015}{0.012}{0.005}{0.06}{0.01}{0.012}{0.012}
\LB{0.14}{0.55}{0.15}{0.14}{0.05}{0.60}{0.08}{0.12}{0.14}
\LB{0.04}{0.40}{0.05}{0.045}{0.015}{0.45}{0.025}{0.04}{0.04}
\addplot[avg] coordinates {(23,0.096)(50.4,0.096)(55,0.17)(57,0.121)(61.8,0.119)(64,0.099)(66.3,0.148)(68.5,0.101)(70.9,0.101)(73.2,0.104)(75.3,0.112)(89,0.112)};
\addplot[rug] table[x=x, y=r] {\rugB};
\end{axis}

%================ (c) left
\begin{axis}[lpanel, rowc, at={(44pt,-490.65pt)}]
\addplot[dk=0.4] coordinates {(2.22,0.86)(2.72,0.86)(2.96,0.9)(3.44,0.91)(3.97,0.88)(4.42,0.885)(5.17,0.9)(5.63,0.92)(5.88,0.97)(6.37,0.97)(6.62,0.955)(9.3,0.955)(9.3,1)(2.22,1)} -- cycle;
\addplot[dk=0.22] coordinates {(5.63,0.15)(5.63,0.9)(5.88,0.99)(5.88,0.85)} -- cycle;
\addplot[dk=0.85] coordinates {(2.22,0.958)(2.72,0.958)(2.96,0.975)(3.44,0.975)(3.97,0.96)(5.17,0.965)(5.63,0.975)(5.88,0.985)(6.37,0.985)(6.62,0.958)(9.3,0.958)(9.3,1)(2.22,1)} -- cycle;
\LC{0.995}{0.995}{0.995}{0.99}{0.99}{0.995}{0.995}{0.998}{0.998}
\LC{0.98}{0.985}{0.99}{0.97}{0.975}{0.98}{0.985}{0.995}{0.99}
\LC{0.96}{0.97}{0.975}{0.94}{0.95}{0.96}{0.97}{0.99}{0.985}
\LC{0.94}{0.96}{0.965}{0.91}{0.92}{0.94}{0.95}{0.985}{0.975}
\LC{0.92}{0.95}{0.955}{0.88}{0.90}{0.93}{0.94}{0.98}{0.965}
\LC{0.90}{0.93}{0.94}{0.85}{0.87}{0.90}{0.93}{0.975}{0.955}
\LC{0.88}{0.92}{0.93}{0.80}{0.83}{0.88}{0.92}{0.97}{0.945}
\LC{0.86}{0.90}{0.91}{0.75}{0.78}{0.85}{0.90}{0.965}{0.935}
\LC{0.84}{0.88}{0.90}{0.70}{0.72}{0.82}{0.88}{0.96}{0.92}
\LC{0.82}{0.87}{0.88}{0.65}{0.65}{0.78}{0.86}{0.955}{0.91}
\LC{0.80}{0.86}{0.87}{0.62}{0.60}{0.75}{0.85}{0.95}{0.90}
\LC{0.78}{0.85}{0.86}{0.58}{0.55}{0.72}{0.84}{0.945}{0.88}
\LC{0.76}{0.84}{0.85}{0.55}{0.50}{0.68}{0.82}{0.94}{0.87}
\LC{0.72}{0.83}{0.84}{0.50}{0.45}{0.62}{0.80}{0.93}{0.86}
\LC{0.70}{0.82}{0.83}{0.48}{0.42}{0.58}{0.78}{0.92}{0.85}
\LC{0.645}{0.80}{0.82}{0.45}{0.38}{0.55}{0.75}{0.91}{0.84}
\LC{0.62}{0.78}{0.80}{0.42}{0.35}{0.50}{0.72}{0.90}{0.83}
\LC{0.59}{0.76}{0.78}{0.40}{0.32}{0.45}{0.70}{0.90}{0.82}
\LC{0.54}{0.72}{0.74}{0.36}{0.30}{0.42}{0.65}{0.89}{0.81}
\LC{0.51}{0.68}{0.70}{0.33}{0.29}{0.40}{0.60}{0.88}{0.80}
\LC{0.453}{0.62}{0.64}{0.31}{0.28}{0.38}{0.55}{0.87}{0.79}
\LC{0.425}{0.58}{0.60}{0.30}{0.30}{0.36}{0.50}{0.86}{0.78}
\LC{0.40}{0.52}{0.55}{0.33}{0.25}{0.35}{0.45}{0.85}{0.77}
\LC{0.354}{0.48}{0.50}{0.28}{0.22}{0.30}{0.40}{0.80}{0.73}
\LC{0.33}{0.45}{0.47}{0.25}{0.20}{0.28}{0.35}{0.75}{0.62}
\LC{0.299}{0.42}{0.44}{0.22}{0.18}{0.25}{0.30}{0.745}{0.623}
\LC{0.282}{0.38}{0.40}{0.20}{0.15}{0.22}{0.25}{0.70}{0.574}
\LC{0.205}{0.30}{0.32}{0.18}{0.14}{0.20}{0.22}{0.66}{0.574}
\LC{0.19}{0.28}{0.30}{0.15}{0.12}{0.18}{0.20}{0.56}{0.464}
\LC{0.17}{0.25}{0.27}{0.13}{0.10}{0.16}{0.18}{0.55}{0.425}
\LC{0.156}{0.22}{0.23}{0.12}{0.09}{0.15}{0.16}{0.50}{0.392}
\LC{0.10}{0.18}{0.19}{0.10}{0.08}{0.12}{0.14}{0.447}{0.37}
\LC{0.09}{0.15}{0.16}{0.09}{0.07}{0.11}{0.13}{0.40}{0.37}
\LC{0.08}{0.12}{0.13}{0.07}{0.06}{0.09}{0.11}{0.308}{0.264}
\LC{0.06}{0.10}{0.11}{0.06}{0.05}{0.08}{0.10}{0.286}{0.195}
\LC{0.05}{0.08}{0.09}{0.05}{0.04}{0.06}{0.08}{0.25}{0.162}
\LC{0.04}{0.07}{0.08}{0.04}{0.035}{0.05}{0.07}{0.20}{0.134}
\LC{0.03}{0.06}{0.07}{0.035}{0.03}{0.05}{0.06}{0.15}{0.103}
\LC{0.024}{0.05}{0.06}{0.03}{0.025}{0.04}{0.05}{0.12}{0.079}
\LC{0.035}{0.06}{0.065}{0.03}{0.03}{0.04}{0.05}{0.10}{0.068}
\LC{0.70}{0.85}{0.88}{0.62}{0.55}{0.55}{0.72}{0.965}{0.955}
\LC{0.65}{0.80}{0.85}{0.33}{0.30}{0.40}{0.75}{0.97}{0.96}
\LC{0.50}{0.66}{0.70}{0.20}{0.18}{0.28}{0.60}{0.96}{0.95}
\LC{0.30}{0.45}{0.50}{0.15}{0.12}{0.20}{0.45}{0.95}{0.94}
\LC{0.18}{0.28}{0.33}{0.10}{0.08}{0.15}{0.35}{0.94}{0.93}
\LC{0.86}{0.88}{0.88}{0.62}{0.80}{0.70}{0.55}{0.96}{0.94}
\LC{0.75}{0.82}{0.84}{0.72}{0.60}{0.40}{0.25}{0.90}{0.85}
\LC{0.60}{0.70}{0.72}{0.50}{0.65}{0.75}{0.80}{0.97}{0.96}
\LC{0.97}{0.98}{0.985}{0.96}{0.965}{0.97}{0.98}{0.995}{0.99}
\LC{0.95}{0.965}{0.97}{0.93}{0.94}{0.95}{0.965}{0.99}{0.98}
\LC{0.93}{0.955}{0.96}{0.90}{0.91}{0.93}{0.955}{0.985}{0.97}
\LC{0.91}{0.945}{0.95}{0.89}{0.89}{0.91}{0.94}{0.98}{0.96}
\LC{0.89}{0.935}{0.945}{0.87}{0.875}{0.895}{0.925}{0.975}{0.95}
\LC{0.87}{0.925}{0.935}{0.85}{0.86}{0.88}{0.915}{0.97}{0.94}
\LC{0.85}{0.91}{0.925}{0.82}{0.84}{0.86}{0.905}{0.965}{0.93}
\LC{0.83}{0.89}{0.91}{0.78}{0.80}{0.83}{0.89}{0.96}{0.92}
\LC{0.81}{0.875}{0.895}{0.70}{0.76}{0.80}{0.87}{0.955}{0.91}
\LC{0.66}{0.81}{0.83}{0.60}{0.45}{0.35}{0.30}{0.74}{0.62}
\LC{0.45}{0.60}{0.62}{0.35}{0.60}{0.65}{0.70}{0.95}{0.94}
\LC{0.25}{0.40}{0.42}{0.18}{0.22}{0.60}{0.85}{0.96}{0.95}
\addplot[avg] coordinates {(2.22,0.84)(2.72,0.84)(2.96,0.879)(3.44,0.892)(3.97,0.862)(4.42,0.864)(4.9,0.877)(5.17,0.881)(5.63,0.903)(5.88,0.956)(6.37,0.956)(6.62,0.938)(9.3,0.938)};
\addplot[rug] table[x=x, y=r] {\rugC};
\end{axis}

%================ (c) right
\begin{axis}[rpanel, rowc, at={(313.75pt,-490.65pt)}]
\addplot[dk=0.4] coordinates {(2.22,0)(9.3,0)(9.3,0.05)(6.62,0.05)(6.37,0.04)(5.88,0.04)(5.63,0.08)(5.17,0.1)(4.42,0.12)(3.97,0.125)(3.44,0.09)(2.96,0.1)(2.72,0.15)(2.22,0.15)} -- cycle;
\addplot[dk=0.2] coordinates {(5.63,0.1)(5.63,0.95)(5.88,0.25)(5.88,0.02)} -- cycle;
\addplot[dk=0.9] coordinates {(2.22,0)(9.3,0)(9.3,0.03)(6.62,0.03)(6.37,0.02)(5.88,0.02)(5.63,0.03)(2.96,0.03)(2.72,0.04)(2.22,0.04)} -- cycle;
\LC{0.975}{0.96}{0.95}{0.975}{0.975}{0.97}{0.96}{0.90}{0.942}
\LC{0.96}{0.93}{0.92}{0.96}{0.96}{0.95}{0.94}{0.87}{0.92}
\LC{0.945}{0.90}{0.88}{0.94}{0.96}{0.93}{0.92}{0.75}{0.903}
\LC{0.93}{0.86}{0.84}{0.91}{0.93}{0.90}{0.88}{0.70}{0.87}
\LC{0.909}{0.82}{0.80}{0.88}{0.90}{0.85}{0.84}{0.50}{0.854}
\LC{0.89}{0.78}{0.76}{0.86}{0.88}{0.82}{0.80}{0.44}{0.826}
\LC{0.87}{0.74}{0.72}{0.84}{0.85}{0.78}{0.76}{0.30}{0.808}
\LC{0.848}{0.70}{0.68}{0.80}{0.83}{0.74}{0.72}{0.24}{0.738}
\LC{0.82}{0.66}{0.64}{0.76}{0.78}{0.70}{0.68}{0.20}{0.634}
\LC{0.793}{0.62}{0.60}{0.72}{0.74}{0.66}{0.64}{0.16}{0.596}
\LC{0.727}{0.58}{0.56}{0.70}{0.72}{0.62}{0.60}{0.14}{0.568}
\LC{0.70}{0.55}{0.52}{0.66}{0.68}{0.58}{0.56}{0.12}{0.541}
\LC{0.67}{0.50}{0.48}{0.62}{0.64}{0.55}{0.52}{0.10}{0.48}
\LC{0.629}{0.46}{0.44}{0.58}{0.60}{0.50}{0.48}{0.09}{0.427}
\LC{0.596}{0.42}{0.40}{0.55}{0.56}{0.46}{0.44}{0.08}{0.381}
\LC{0.56}{0.38}{0.36}{0.52}{0.52}{0.42}{0.40}{0.07}{0.321}
\LC{0.535}{0.35}{0.33}{0.48}{0.48}{0.38}{0.36}{0.06}{0.244}
\LC{0.502}{0.32}{0.30}{0.44}{0.44}{0.35}{0.33}{0.06}{0.244}
\LC{0.45}{0.28}{0.26}{0.40}{0.40}{0.30}{0.28}{0.05}{0.22}
\LC{0.414}{0.25}{0.23}{0.36}{0.38}{0.28}{0.26}{0.05}{0.20}
\LC{0.38}{0.22}{0.20}{0.32}{0.34}{0.25}{0.23}{0.04}{0.18}
\LC{0.359}{0.20}{0.18}{0.30}{0.30}{0.22}{0.20}{0.04}{0.16}
\LC{0.33}{0.18}{0.16}{0.27}{0.28}{0.20}{0.18}{0.035}{0.14}
\LC{0.299}{0.16}{0.14}{0.24}{0.25}{0.18}{0.16}{0.03}{0.12}
\LC{0.27}{0.14}{0.12}{0.20}{0.22}{0.16}{0.14}{0.03}{0.10}
\LC{0.24}{0.12}{0.11}{0.18}{0.19}{0.14}{0.12}{0.025}{0.09}
\LC{0.21}{0.10}{0.09}{0.15}{0.16}{0.12}{0.10}{0.02}{0.08}
\LC{0.18}{0.08}{0.08}{0.12}{0.13}{0.10}{0.08}{0.02}{0.07}
\LC{0.15}{0.07}{0.07}{0.10}{0.11}{0.08}{0.07}{0.015}{0.06}
\LC{0.12}{0.06}{0.06}{0.08}{0.09}{0.07}{0.06}{0.015}{0.05}
\LC{0.10}{0.05}{0.05}{0.07}{0.08}{0.06}{0.05}{0.01}{0.045}
\LC{0.08}{0.04}{0.04}{0.06}{0.06}{0.05}{0.04}{0.01}{0.04}
\LC{0.06}{0.03}{0.03}{0.05}{0.05}{0.04}{0.03}{0.01}{0.03}
\LC{0.65}{0.45}{0.40}{0.80}{0.60}{0.45}{0.35}{0.05}{0.20}
\LC{0.52}{0.40}{0.35}{0.55}{0.78}{0.66}{0.50}{0.07}{0.18}
\LC{0.42}{0.30}{0.28}{0.70}{0.55}{0.40}{0.30}{0.05}{0.15}
\LC{0.90}{0.86}{0.85}{0.92}{0.94}{0.88}{0.85}{0.90}{0.93}
\LC{0.78}{0.60}{0.55}{0.50}{0.62}{0.70}{0.72}{0.44}{0.69}
\LC{0.95}{0.92}{0.90}{0.92}{0.95}{0.94}{0.93}{0.74}{0.90}
\LC{0.14}{0.06}{0.055}{0.09}{0.10}{0.08}{0.06}{0.015}{0.055}
\LC{0.13}{0.055}{0.05}{0.085}{0.09}{0.07}{0.055}{0.012}{0.05}
\LC{0.11}{0.045}{0.04}{0.07}{0.08}{0.06}{0.05}{0.01}{0.04}
\LC{0.09}{0.04}{0.035}{0.06}{0.07}{0.05}{0.04}{0.01}{0.035}
\LC{0.07}{0.035}{0.03}{0.05}{0.06}{0.045}{0.035}{0.008}{0.03}
\LC{0.05}{0.03}{0.025}{0.04}{0.05}{0.035}{0.03}{0.006}{0.025}
\LC{0.20}{0.09}{0.085}{0.13}{0.14}{0.11}{0.09}{0.02}{0.08}
\LC{0.17}{0.08}{0.075}{0.11}{0.12}{0.10}{0.08}{0.018}{0.07}
\LC{0.26}{0.13}{0.12}{0.18}{0.20}{0.15}{0.12}{0.025}{0.10}
\LC{0.32}{0.17}{0.15}{0.24}{0.26}{0.19}{0.16}{0.03}{0.12}
\LC{0.60}{0.48}{0.45}{0.62}{0.65}{0.45}{0.40}{0.25}{0.30}
\LC{0.85}{0.75}{0.72}{0.82}{0.70}{0.50}{0.45}{0.40}{0.63}
\addplot[avg] coordinates {(2.22,0.165)(2.72,0.165)(2.96,0.121)(3.44,0.11)(3.97,0.145)(4.42,0.14)(4.9,0.125)(5.17,0.121)(5.63,0.101)(5.88,0.052)(6.37,0.052)(6.62,0.066)(9.3,0.066)};
\addplot[rug] table[x=x, y=r] {\rugC};
\end{axis}

\pgfresetboundingbox
\path[use as bounding box] (0,0) rectangle (586.5pt,-681.5pt);
\end{tikzpicture}
\end{document}
